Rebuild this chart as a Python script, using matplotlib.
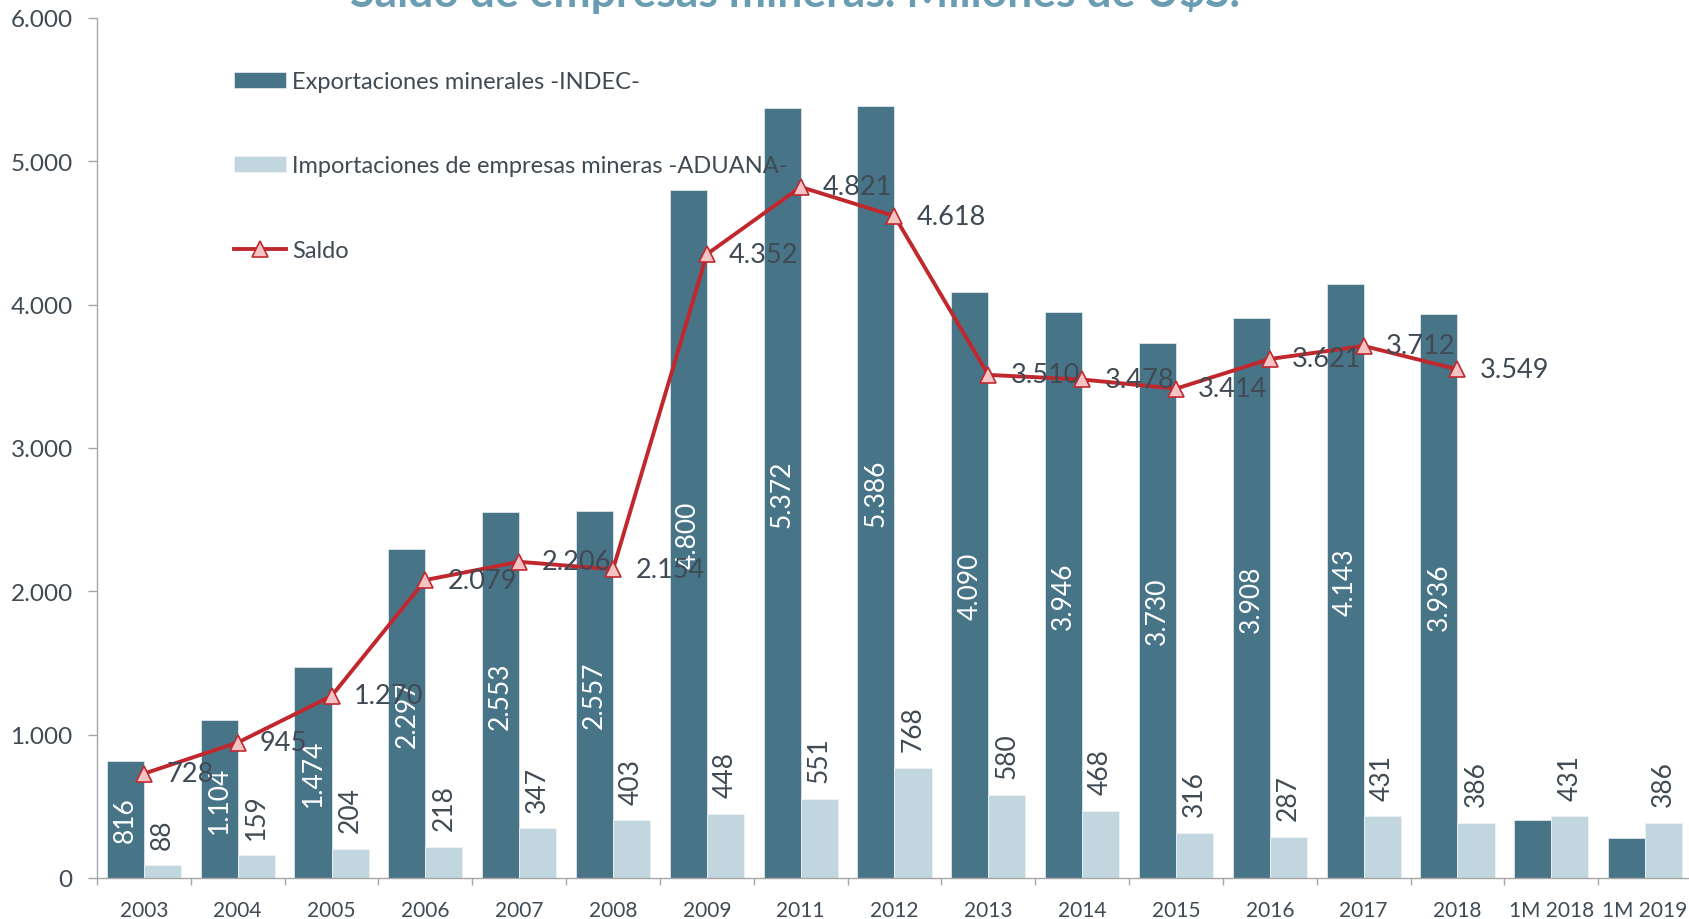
import matplotlib
matplotlib.use("Agg")
import matplotlib.pyplot as plt
from matplotlib.ticker import FixedLocator, FuncFormatter

plt.rcParams["font.family"] = ["Lato", "DejaVu Sans"]

categories = ["2003", "2004", "2005", "2006", "2007", "2008", "2009", "2011",
              "2012", "2013", "2014", "2015", "2016", "2017", "2018",
              "1M 2018", "1M 2019"]
exports = [816, 1104, 1474, 2297, 2553, 2557, 4800, 5372, 5386, 4090, 3946,
           3730, 3908, 4143, 3936, 405, 280]
imports = [88, 159, 204, 218, 347, 403, 448, 551, 768, 580, 468, 316, 287,
           431, 386, 431, 386]
saldo = [728, 945, 1270, 2079, 2206, 2154, 4352, 4821, 4618, 3510, 3478,
         3414, 3621, 3712, 3549]
n_labeled_exports = 15

c_exp = "#487488"
c_imp = "#c2d6df"
c_line = "#c0282e"
c_text = "#404a54"
c_axis = "#a6a6a6"


def fmt(v):
    return f"{v:,.0f}".replace(",", ".")


fig = plt.figure(figsize=(16.9, 9.2), dpi=100)
ax = fig.add_axes([97 / 1690, 1 - 879 / 920, 1595 / 1690, 860 / 920])

x = list(range(len(categories)))
w = 0.395
b1 = ax.bar([i - w for i in x], exports, width=w, align="edge", color=c_exp,
            edgecolor="#dce6ea", linewidth=0.6,
            label="Exportaciones minerales -INDEC-", zorder=2)
b2 = ax.bar(x, imports, width=w, align="edge", color=c_imp,
            edgecolor="#eef3f5", linewidth=0.6,
            label="Importaciones de empresas mineras -ADUANA-", zorder=2)
ln, = ax.plot(x[:len(saldo)], saldo, color=c_line, lw=2.8, marker="^",
              markersize=11, markerfacecolor="#f4c4c4",
              markeredgecolor=c_line, markeredgewidth=1.2, label="Saldo",
              zorder=4)

# labels inside export bars
for i in range(n_labeled_exports):
    ax.text(i - w / 2, exports[i] / 2, fmt(exports[i]), rotation=90,
            ha="center", va="center", color="white", fontsize=19, zorder=3)

# labels above import bars
for i, v in enumerate(imports):
    ax.annotate(fmt(v), xy=(i + w / 2, v), xytext=(0, 12),
                textcoords="offset points", rotation=90, ha="center",
                va="bottom", color=c_text, fontsize=19, zorder=3)

# saldo labels
for i, v in enumerate(saldo):
    ax.annotate(fmt(v), xy=(i, v), xytext=(16, 0), textcoords="offset points",
                ha="left", va="center", color=c_text, fontsize=19.5, zorder=5)

ax.set_xlim(-0.5, len(categories) - 0.5)
ax.set_ylim(0, 6000)
ax.set_yticks(range(0, 6001, 1000))
ax.yaxis.set_major_formatter(FuncFormatter(lambda v, p: fmt(v)))
ax.set_xticks(x)
ax.set_xticklabels(categories)
ax.xaxis.set_minor_locator(FixedLocator([i - 0.5 for i in range(len(categories) + 1)]))
ax.tick_params(axis="x", which="major", length=0, pad=16, labelsize=15,
               labelcolor=c_text)
ax.tick_params(axis="x", which="minor", length=5, width=1, color=c_axis)
ax.tick_params(axis="y", length=6.5, width=1, color=c_axis, pad=11,
               labelsize=17.5, labelcolor=c_text)

for s in ["top", "right"]:
    ax.spines[s].set_visible(False)
for s in ["left", "bottom"]:
    ax.spines[s].set_color(c_axis)
    ax.spines[s].set_linewidth(1)

ax.legend(handles=[b1, b2, ln], loc="upper left",
          bbox_to_anchor=(234 / 1690, 1 - 72 / 920),
          bbox_transform=fig.transFigure, frameon=False, fontsize=17,
          handlelength=2.2, handleheight=0.64, handletextpad=0.25,
          labelspacing=2.68, borderpad=0, borderaxespad=0, labelcolor=c_text)

fig.text(795 / 1690, 1 - 7 / 920, "Saldo de empresas mineras. Millones de U$S.",
         ha="center", va="baseline", fontsize=32, fontweight="bold",
         color="#6a9db2")

fig.savefig("out.png", dpi=100)
print("saved")
